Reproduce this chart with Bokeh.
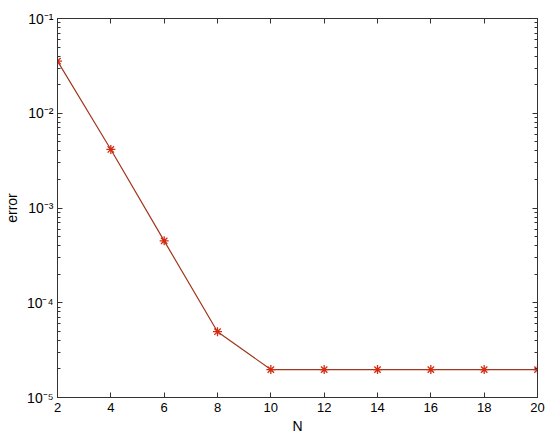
from bokeh.plotting import figure
from bokeh.models import Range1d, LinearAxis, LogAxis, LogTicker, FixedTicker, CustomJSTickFormatter
from bokeh.embed import file_html
from bokeh.resources import INLINE

N = [2, 4, 6, 8, 10, 12, 14, 16, 18, 20]
error = [3.55e-2, 4.15e-3, 4.5e-4, 4.95e-5, 1.97e-5, 1.97e-5, 1.97e-5, 1.97e-5, 1.97e-5, 1.97e-5]
x_ticks = [2, 4, 6, 8, 10, 12, 14, 16, 18, 20]

FONT = "Liberation Sans"

p = figure(width=550, height=437, y_axis_type="log", output_backend="svg",
           toolbar_location=None, x_range=Range1d(2, 20), y_range=Range1d(1e-5, 1e-1),
           min_border_left=57, min_border_top=18, min_border_right=13, min_border_bottom=40)
p.xgrid.visible = False
p.ygrid.visible = False
p.outline_line_color = "#333333"
p.outline_line_width = 1
p.background_fill_color = "white"
p.border_fill_color = "white"

sup_code = """
const e = Math.round(Math.log10(tick));
const sup = {"-":"\u207b","0":"\u2070","1":"\u00b9","2":"\u00b2","3":"\u00b3","4":"\u2074","5":"\u2075","6":"\u2076","7":"\u2077","8":"\u2078","9":"\u2079"};
return "10" + String(e).split("").map(c => sup[c]).join("");
"""

def style(ax):
    ax.major_tick_in = 5
    ax.major_tick_out = 0
    ax.minor_tick_in = 3
    ax.minor_tick_out = 0
    ax.axis_line_color = "#333333"
    ax.major_tick_line_color = "#333333"
    ax.minor_tick_line_color = "#333333"
    ax.major_label_text_font = FONT
    ax.major_label_text_font_size = "13px"
    ax.major_label_text_color = "black"
    ax.axis_label_text_font = FONT
    ax.axis_label_text_font_size = "14px"
    ax.axis_label_text_font_style = "normal"
    ax.axis_label_text_color = "black"

xa = p.xaxis[0]
xa.ticker = FixedTicker(ticks=x_ticks)
xa.axis_label = "N"
xa.axis_label_standoff = 3
xa.major_label_standoff = 5
style(xa)
xa.minor_tick_in = 0

ya = p.yaxis[0]
ya.ticker = LogTicker(num_minor_ticks=10)
ya.formatter = CustomJSTickFormatter(code=sup_code)
ya.axis_label = "error"
ya.axis_label_standoff = 4
ya.major_label_standoff = 4
style(ya)
ya.major_label_text_font_size = "14px"

top = LinearAxis(ticker=FixedTicker(ticks=x_ticks),
                 formatter=CustomJSTickFormatter(code="return '';"))
style(top)
top.minor_tick_in = 0
top.major_label_text_font_size = "0px"
top.major_label_standoff = 0
p.add_layout(top, "above")

right = LogAxis(ticker=LogTicker(num_minor_ticks=10),
                formatter=CustomJSTickFormatter(code="return '';"))
style(right)
right.major_label_text_font_size = "0px"
right.major_label_standoff = 0
p.add_layout(right, "right")

p.line(N, error, line_color="#a3361c", line_width=1.2)
p.scatter(N, error, marker="asterisk", size=9, line_color="#d42a10", line_width=1.3)

open("out.html", "w").write(file_html(p, INLINE))
